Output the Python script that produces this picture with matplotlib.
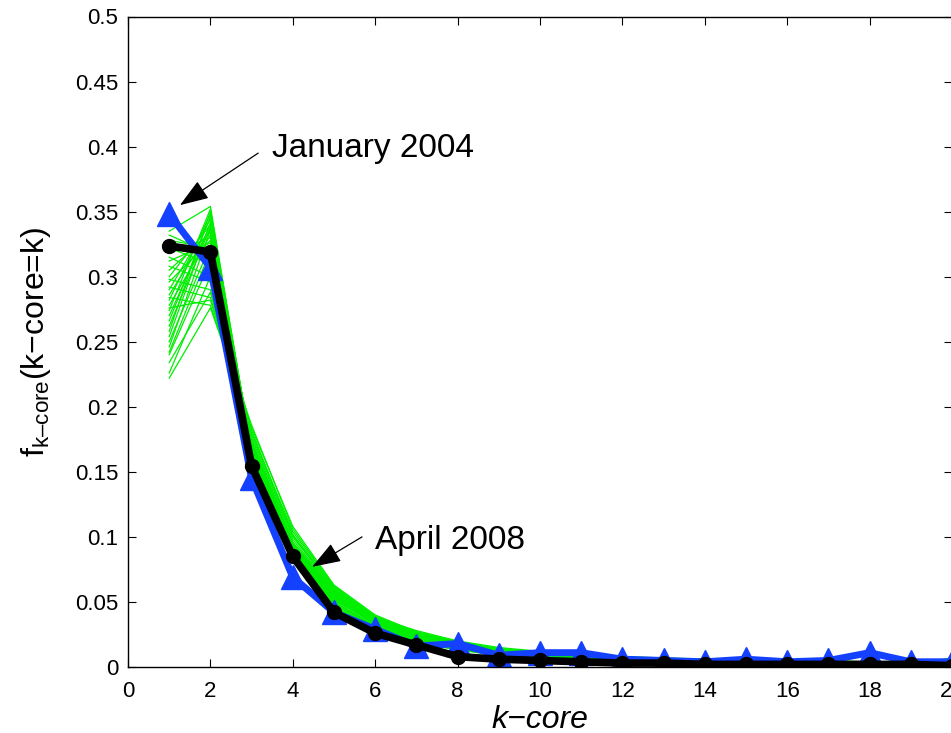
import matplotlib
matplotlib.use("Agg")
import matplotlib.pyplot as plt
from matplotlib.ticker import FuncFormatter

plt.rcParams['font.family'] = ['Liberation Sans', 'DejaVu Sans']
plt.rcParams['mathtext.fontset'] = 'custom'
plt.rcParams['mathtext.rm'] = 'Liberation Sans'
plt.rcParams['mathtext.it'] = 'Liberation Sans:italic'

k = list(range(1, 21))

# January 2004 (first month)
jan_2004 = [0.348, 0.307, 0.145, 0.069, 0.042, 0.029, 0.016, 0.018, 0.009, 0.011,
            0.011, 0.006, 0.005, 0.004, 0.006, 0.004, 0.005, 0.011, 0.004, 0.004]

# April 2008 (last month)
apr_2008 = [0.3236, 0.319, 0.1545, 0.085, 0.042, 0.026, 0.017, 0.008, 0.006, 0.005,
            0.004, 0.003, 0.003, 0.002, 0.002, 0.002, 0.002, 0.002, 0.002, 0.001]

# months in between
months = [
    [0.332, 0.318, 0.160, 0.082, 0.046, 0.030, 0.019, 0.013, 0.009, 0.008, 0.007, 0.005, 0.004, 0.004, 0.003, 0.003, 0.003, 0.003, 0.002, 0.002],
    [0.328, 0.322, 0.158, 0.084, 0.048, 0.031, 0.020, 0.014, 0.010, 0.008, 0.006, 0.005, 0.005, 0.004, 0.004, 0.003, 0.003, 0.002, 0.002, 0.002],
    [0.318, 0.330, 0.162, 0.086, 0.050, 0.032, 0.021, 0.014, 0.010, 0.009, 0.007, 0.006, 0.005, 0.004, 0.003, 0.003, 0.003, 0.003, 0.002, 0.002],
    [0.312, 0.326, 0.165, 0.088, 0.052, 0.033, 0.022, 0.015, 0.011, 0.009, 0.007, 0.005, 0.004, 0.004, 0.004, 0.003, 0.003, 0.002, 0.003, 0.002],
    [0.305, 0.334, 0.163, 0.087, 0.051, 0.034, 0.021, 0.016, 0.011, 0.008, 0.006, 0.006, 0.005, 0.004, 0.003, 0.003, 0.002, 0.003, 0.002, 0.002],
    [0.300, 0.340, 0.160, 0.089, 0.053, 0.035, 0.023, 0.015, 0.012, 0.009, 0.008, 0.006, 0.005, 0.004, 0.004, 0.003, 0.003, 0.003, 0.002, 0.003],
    [0.296, 0.328, 0.166, 0.090, 0.055, 0.034, 0.024, 0.016, 0.011, 0.010, 0.007, 0.006, 0.004, 0.005, 0.004, 0.003, 0.003, 0.003, 0.002, 0.002],
    [0.290, 0.344, 0.162, 0.088, 0.052, 0.033, 0.022, 0.017, 0.012, 0.009, 0.007, 0.005, 0.005, 0.004, 0.003, 0.004, 0.003, 0.002, 0.002, 0.003],
    [0.286, 0.336, 0.168, 0.091, 0.054, 0.036, 0.023, 0.015, 0.012, 0.010, 0.008, 0.006, 0.005, 0.004, 0.004, 0.003, 0.004, 0.003, 0.002, 0.002],
    [0.282, 0.348, 0.164, 0.087, 0.056, 0.035, 0.025, 0.016, 0.013, 0.010, 0.008, 0.007, 0.005, 0.005, 0.004, 0.004, 0.003, 0.003, 0.003, 0.002],
    [0.278, 0.332, 0.170, 0.092, 0.055, 0.036, 0.024, 0.017, 0.012, 0.011, 0.009, 0.006, 0.006, 0.005, 0.004, 0.004, 0.003, 0.003, 0.002, 0.003],
    [0.274, 0.352, 0.166, 0.089, 0.054, 0.034, 0.023, 0.016, 0.011, 0.010, 0.008, 0.006, 0.005, 0.005, 0.004, 0.003, 0.004, 0.003, 0.003, 0.002],
    [0.270, 0.340, 0.168, 0.093, 0.057, 0.037, 0.025, 0.018, 0.013, 0.010, 0.009, 0.007, 0.006, 0.005, 0.004, 0.004, 0.003, 0.004, 0.003, 0.003],
    [0.266, 0.346, 0.165, 0.090, 0.056, 0.035, 0.024, 0.017, 0.013, 0.011, 0.008, 0.007, 0.005, 0.004, 0.005, 0.004, 0.003, 0.003, 0.002, 0.002],
    [0.262, 0.338, 0.171, 0.094, 0.058, 0.036, 0.026, 0.018, 0.012, 0.010, 0.009, 0.006, 0.006, 0.005, 0.004, 0.004, 0.004, 0.003, 0.003, 0.003],
    [0.258, 0.350, 0.167, 0.091, 0.055, 0.037, 0.025, 0.017, 0.014, 0.011, 0.009, 0.007, 0.006, 0.005, 0.005, 0.004, 0.004, 0.003, 0.003, 0.002],
    [0.254, 0.342, 0.169, 0.092, 0.057, 0.036, 0.024, 0.018, 0.013, 0.011, 0.008, 0.007, 0.005, 0.006, 0.004, 0.004, 0.003, 0.004, 0.002, 0.003],
    [0.250, 0.324, 0.172, 0.095, 0.058, 0.038, 0.026, 0.017, 0.012, 0.010, 0.009, 0.006, 0.006, 0.005, 0.005, 0.004, 0.004, 0.003, 0.003, 0.003],
    [0.246, 0.336, 0.170, 0.093, 0.056, 0.035, 0.025, 0.019, 0.014, 0.011, 0.010, 0.007, 0.006, 0.005, 0.004, 0.005, 0.004, 0.003, 0.003, 0.002],
    [0.242, 0.320, 0.168, 0.090, 0.054, 0.034, 0.023, 0.016, 0.012, 0.009, 0.008, 0.006, 0.005, 0.004, 0.004, 0.003, 0.003, 0.003, 0.002, 0.002],
    [0.240, 0.312, 0.173, 0.096, 0.059, 0.037, 0.026, 0.018, 0.013, 0.011, 0.009, 0.007, 0.006, 0.005, 0.005, 0.004, 0.004, 0.004, 0.003, 0.003],
    [0.322, 0.310, 0.156, 0.083, 0.047, 0.030, 0.020, 0.013, 0.010, 0.008, 0.007, 0.005, 0.004, 0.004, 0.003, 0.003, 0.003, 0.002, 0.002, 0.002],
    [0.315, 0.300, 0.158, 0.085, 0.049, 0.031, 0.021, 0.014, 0.010, 0.009, 0.006, 0.005, 0.005, 0.004, 0.003, 0.003, 0.002, 0.003, 0.002, 0.002],
    [0.308, 0.296, 0.160, 0.086, 0.050, 0.032, 0.020, 0.015, 0.011, 0.008, 0.007, 0.006, 0.004, 0.004, 0.004, 0.003, 0.003, 0.002, 0.002, 0.002],
    [0.298, 0.290, 0.176, 0.100, 0.060, 0.038, 0.027, 0.019, 0.014, 0.011, 0.010, 0.008, 0.006, 0.006, 0.005, 0.005, 0.004, 0.004, 0.003, 0.004],
    [0.292, 0.284, 0.180, 0.104, 0.062, 0.039, 0.026, 0.020, 0.013, 0.012, 0.009, 0.007, 0.007, 0.005, 0.005, 0.004, 0.004, 0.004, 0.003, 0.003],
    [0.284, 0.278, 0.184, 0.108, 0.063, 0.040, 0.027, 0.019, 0.014, 0.011, 0.010, 0.008, 0.006, 0.006, 0.005, 0.005, 0.004, 0.004, 0.003, 0.003],
    [0.276, 0.282, 0.178, 0.102, 0.061, 0.038, 0.028, 0.020, 0.015, 0.012, 0.010, 0.008, 0.007, 0.006, 0.005, 0.004, 0.005, 0.004, 0.003, 0.003],
    [0.234, 0.288, 0.174, 0.098, 0.059, 0.037, 0.025, 0.018, 0.013, 0.010, 0.009, 0.007, 0.006, 0.005, 0.004, 0.004, 0.004, 0.003, 0.003, 0.003],
    [0.222, 0.276, 0.186, 0.106, 0.062, 0.039, 0.027, 0.019, 0.014, 0.012, 0.010, 0.008, 0.006, 0.005, 0.005, 0.004, 0.004, 0.004, 0.003, 0.004],
    [0.226, 0.300, 0.182, 0.101, 0.060, 0.038, 0.026, 0.018, 0.013, 0.011, 0.009, 0.007, 0.006, 0.005, 0.004, 0.004, 0.004, 0.003, 0.003, 0.003],
    [0.335, 0.354, 0.164, 0.088, 0.053, 0.034, 0.022, 0.016, 0.011, 0.009, 0.008, 0.006, 0.005, 0.004, 0.004, 0.003, 0.003, 0.003, 0.002, 0.007],
]

fig = plt.figure(figsize=(9.51, 7.33), dpi=100)
ax = fig.add_axes([128 / 951, 66 / 733, 824 / 951, 650.5 / 733])

for m in months:
    ax.plot(k, m, color='#00ee00', lw=0.9)

ax.plot(k, jan_2004, color='#1440ff', lw=5, marker='^', ms=17, mec='#1440ff')
ax.plot(k, apr_2008, color='black', lw=5.5, marker='o', ms=10)

ax.set_xlim(0, 20)
ax.set_ylim(0, 0.5)
ax.set_xticks(range(0, 21, 2))
ax.set_yticks([i * 0.05 for i in range(11)])
ax.yaxis.set_major_formatter(FuncFormatter(lambda v, p: '%g' % round(v, 2)))
ax.tick_params(direction='in', length=6, width=0.8, top=True, right=True,
               labelsize=16)
ax.tick_params(axis='x', pad=10)
ax.tick_params(axis='y', pad=7)
for s in ax.spines.values():
    s.set_linewidth(1.0)

ax.set_xlabel('k\u2212core', fontsize=23, style='italic', labelpad=2)
ax.set_ylabel('f$_{\\mathregular{k\u2013core}}$(k\u2212core=k)', fontsize=23,
              labelpad=16)

arrow = dict(arrowstyle='-|>,head_length=0.9,head_width=0.32', color='black',
             lw=0.9, shrinkA=0, shrinkB=0, mutation_scale=20)
ax.annotate('', xy=(1.26, 0.355), xytext=(3.16, 0.395), arrowprops=arrow)
ax.text(3.5, 0.392, 'January 2004', fontsize=24, va='baseline')
ax.annotate('', xy=(4.47, 0.077), xytext=(5.68, 0.100), arrowprops=arrow)
ax.text(6.0, 0.0907, 'April 2008', fontsize=24, va='baseline')

fig.savefig('out.png', dpi=100)
